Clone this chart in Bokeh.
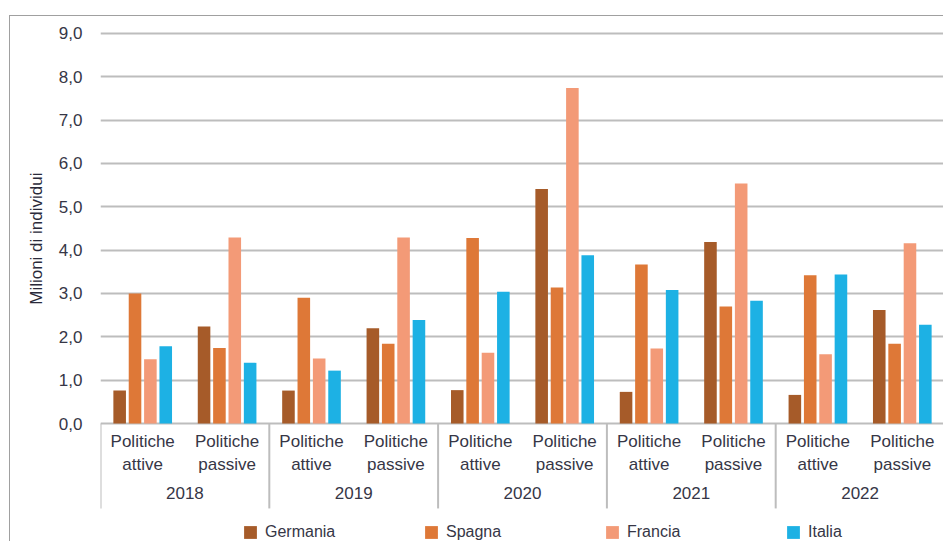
import math
from bokeh.plotting import figure
from bokeh.models import (FactorRange, Range1d, ColumnDataSource, FixedTicker,
                          Legend, LegendItem, Title)
from bokeh.transform import dodge
from bokeh.core.properties import value
from bokeh.embed import file_html
from bokeh.resources import INLINE

# ---------------- data ----------------
years = ["2018", "2019", "2020", "2021", "2022"]
policies = ["Politiche attive", "Politiche passive"]
policy_labels = ["Politiche\nattive", "Politiche\npassive"]
countries = ["Germania", "Spagna", "Francia", "Italia"]
colors = ["#a65b29", "#de7837", "#f39a77", "#1db1e4"]

# order: 2018 attive, 2018 passive, 2019 attive, ... 2022 passive
germania = [0.76, 2.24, 0.76, 2.20, 0.77, 5.41, 0.73, 4.19, 0.66, 2.62]
spagna   = [3.00, 1.74, 2.90, 1.84, 4.28, 3.14, 3.67, 2.70, 3.42, 1.84]
francia  = [1.48, 4.29, 1.50, 4.29, 1.63, 7.74, 1.73, 5.54, 1.60, 4.16]
italia   = [1.78, 1.40, 1.22, 2.39, 3.04, 3.88, 3.08, 2.83, 3.44, 2.28]

y_ticks = [0, 1, 2, 3, 4, 5, 6, 7, 8, 9]
y_tick_labels = ["0,0", "1,0", "2,0", "3,0", "4,0", "5,0", "6,0", "7,0", "8,0", "9,0"]
y_title = "Milioni di individui"

# ---------------- styling ----------------
FONT = "Liberation Sans"
TXT = "#363646"
GRID = "#bdbdbd"

factors = [(y, pol) for y in years for pol in policies]
series = [germania, spagna, francia, italia]

src = ColumnDataSource(dict(x=factors, **{c: s for c, s in zip(countries, series)}))

p = figure(width=934, height=526,
           x_range=FactorRange(*factors, factor_padding=0, group_padding=0, range_padding=0),
           y_range=Range1d(-2.746, 9.069),
           x_axis_location=None, toolbar_location=None, output_backend="svg",
           min_border_left=90, min_border_right=0, min_border_top=14, min_border_bottom=0)
p.styles = {"margin-top": "15px", "margin-left": "9px",
            "border-top": "1px solid #a0a0a0", "border-left": "1px solid #a0a0a0"}
p.outline_line_color = None
p.background_fill_color = "white"
p.border_fill_color = "white"

# y axis and grid
p.yaxis.ticker = FixedTicker(ticks=y_ticks)
p.yaxis.major_label_overrides = {t: lab for t, lab in zip(y_ticks, y_tick_labels)}
p.yaxis.axis_line_color = None
p.yaxis.major_tick_line_color = None
p.yaxis.minor_tick_line_color = None
p.yaxis.major_label_standoff = 12
p.yaxis.major_label_text_font = FONT
p.yaxis.major_label_text_font_size = "17px"
p.yaxis.major_label_text_color = TXT
p.ygrid.ticker = FixedTicker(ticks=y_ticks)
p.ygrid.grid_line_color = GRID
p.ygrid.grid_line_width = 2
p.xgrid.grid_line_color = None

# y title, placed on the left side panel, measured from the top of the frame
p.add_layout(Title(text=y_title, align="right", offset=142, standoff=19,
                   text_font=FONT, text_font_size="17px", text_font_style="normal",
                   text_color="#2a2a3a"), "left")

# bars
stride = 0.182
bar_w = 0.149
renderers = []
for i, (c, col) in enumerate(zip(countries, colors)):
    r = p.vbar(x=dodge("x", (i - 1.5) * stride, range=p.x_range), top=c, width=bar_w,
               bottom=0, source=src, fill_color=col, line_color=None)
    renderers.append(r)

# separators below the baseline
sep_src = ColumnDataSource(dict(x=[(y, policies[0]) for y in years]))
p.segment(x0=dodge("x", -0.5, range=p.x_range), y0=0,
          x1=dodge("x", -0.5, range=p.x_range), y1=-1.96,
          source=sep_src, line_color=GRID, line_width=2)
end_src = ColumnDataSource(dict(x=[(years[-1], policies[-1])]))
p.segment(x0=dodge("x", 0.5, range=p.x_range), y0=0,
          x1=dodge("x", 0.5, range=p.x_range), y1=-1.96,
          source=end_src, line_color=GRID, line_width=2)

# category labels
lab_src = ColumnDataSource(dict(x=factors, text=[policy_labels[policies.index(f[1])] for f in factors]))
p.text(x="x", y=-0.2, text="text", source=lab_src, text_align="center", text_baseline="top",
       text_font=value(FONT), text_font_size="17px", text_color=TXT, text_line_height=1.2)

year_src = ColumnDataSource(dict(x=years, text=years))
p.text(x="x", y=-1.6, text="text", source=year_src, text_align="center", text_baseline="middle",
       text_font=value(FONT), text_font_size="17px", text_color=TXT)

# legend
legend = Legend(items=[LegendItem(label=c, renderers=[r]) for c, r in zip(countries, renderers)],
                orientation="horizontal", location=(142, 1),
                glyph_width=16, glyph_height=16, label_standoff=7, label_width=158,
                label_height=16, spacing=0, padding=0, margin=0,
                border_line_color=None, background_fill_alpha=0,
                label_text_font=FONT, label_text_font_size="16px", label_text_color=TXT)
p.add_layout(legend)

open("out.html", "w").write(file_html(p, INLINE))
